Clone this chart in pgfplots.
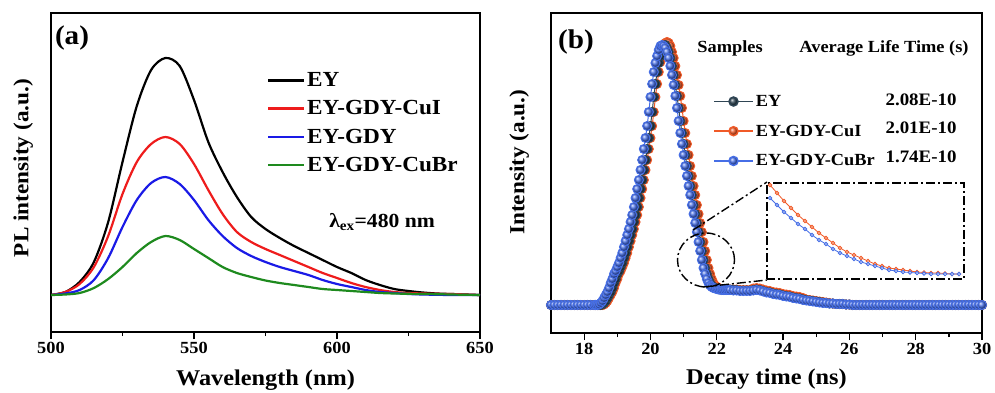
\documentclass[border=0pt]{standalone}
\usepackage{fontspec}
\setmainfont{Liberation Serif}[FakeStretch=1.08]
\usepackage{pgfplots}
\pgfplotsset{compat=1.18}
\usepackage{pgfplotstable}
\definecolor{cEY}{HTML}{2F4554}
\definecolor{cCuI}{HTML}{F05A28}
\definecolor{cCuBr}{HTML}{466EE6}
\definecolor{pRed}{HTML}{EE1C1C}
\definecolor{pBlue}{HTML}{1A1AE6}
\definecolor{pGreen}{HTML}{1E8A1E}
\pgfdeclareplotmark{ballEY}{\shade[ball color=cEY] (0pt,0pt) circle (\pgfplotmarksize);}
\pgfdeclareplotmark{ballCuI}{\shade[ball color=cCuI] (0pt,0pt) circle (\pgfplotmarksize);}
\pgfdeclareplotmark{ballCuBr}{\shade[ball color=cCuBr] (0pt,0pt) circle (\pgfplotmarksize);}
\newcommand\fs[1]{\fontsize{#1}{#1}\selectfont\bfseries}
\tikzset{dashdot/.style={line width=1.4pt, dash pattern=on 9pt off 3pt on 2pt off 3pt}}

\pgfplotstableread{
w k r bl g
500 37 37 37 37
505 40 40 38.5 37.5
510 50 48 42 39
515 70 65 52 44
520 110 96 74 53
525 170 138 105 65
530 226 170 132 79
535 262 188 149 90
540 274 195 155 96
545 266 188 148 92
550 232 168 132 83
555 190 142 112 74
560 160 118 96 65
565 135 100 84 59
570 115 90 76 55
575 103 83 70 51.5
580 94 77 65 49
585 86 71 61 47
590 79 65 57 45
595 72 59 52 43
600 65 54 48 42
605 59 49 45 41
610 52 45 42 40
615 47 42 40 39
620 43 40 39 38.5
625 41 39 38 38.2
630 39.5 38.5 37.5 38
635 38.5 38.2 37.2 37.8
640 38 38 37 37.5
645 37.5 37.5 37 37.2
650 37 37 37 37
}\pl

\pgfplotstableread{
t b r e
17.0 28 28 28
17.1 28 28 28
17.2 28 28 28
17.3 28 28 28
17.4 28 28 28
17.5 28 28 28
17.6 28 28 28
17.7 28 28 28
17.8 28 28 28
17.9 28 28 28
18.0 28 28 28
18.1 28 28 28
18.2 28 28 28
18.3 28 28 28
18.35 28 28 28
18.40 28 28 28
18.45 28.5 28 28
18.50 30 28 28
18.55 32 28 28.5
18.60 35 28.5 30
18.65 38 30 32
18.70 41 32 35
18.75 45 35 38
18.80 50 38 41
18.85 54 41 45
18.90 59 45 50
18.95 62 50 54
19.00 66 54 59
19.05 70 59 62
19.10 75 62 66
19.15 80 66 70
19.20 86 70 75
19.25 92 75 80
19.30 98 80 86
19.35 104 86 92
19.40 111 92 98
19.45 118 98 104
19.50 126 104 111
19.55 135 111 118
19.60 144 118 126
19.65 153 126 135
19.70 163 135 144
19.75 173 144 153
19.80 184 153 163
19.85 195 163 173
19.90 207 173 184
19.95 221 184 195
20.00 236 195 207
20.05 249 207 221
20.10 261 221 236
20.15 270 236 249
20.20 277 249 261
20.25 283 261 270
20.30 287 271 277
20.35 288 279 283
20.40 287 285 287
20.45 285 290 288
20.50 281 291 285
20.55 275 290 281
20.60 267 287 275
20.65 258 281 267
20.70 248 275 258
20.75 237 267 248
20.80 225 258 237
20.85 212 248 225
20.90 200 237 212
20.95 189 225 200
21.00 178 212 189
21.05 167 200 178
21.10 157 189 167
21.15 147 178 157
21.20 138 167 147
21.25 128 157 138
21.30 119 147 128
21.35 110 138 119
21.40 101 128 110
21.45 91 119 101
21.50 82 110 91
21.55 73 101 82
21.60 65 91 73
21.65 59 82 65
21.70 54 73 59
21.75 50 65 54
21.80 47.5 59 50
21.85 46 54 47.5
21.90 45 50 46
21.95 44.5 47.5 45
22.00 44 46 44.5
22.05 43.5 45 44
22.10 43.5 44.5 43.5
22.15 43 44 43.5
22.20 43 43.5 43.5
22.25 43 43.5 43.5
22.30 43 43.5 43.5
22.35 43 43.5 43.5
22.40 43 43.5 43.5
22.5 42.5 43.5 43
22.6 42.5 43.5 43
22.7 42 43 42.5
22.8 42 43 42.5
22.9 42 43 42.5
23.0 42 43 42.5
23.1 42.5 44.5 43
23.2 43 45 43.5
23.3 42.5 44.5 43
23.4 41.5 43.5 42
23.5 40.5 42.5 41
23.6 40 42 40.5
23.7 39 41 39.5
23.8 38.5 40.5 39
23.9 38 40 38.5
24.0 37 39 37.5
24.1 36.5 38.5 37
24.2 36 38 36.5
24.3 35 37 35.5
24.4 34.5 36.5 35
24.5 34 36 34.5
24.6 33 35 33.5
24.7 32.5 33.5 33
24.8 32 33 32.5
24.9 31.5 32.5 32
25.0 31 32 31.5
25.1 30.5 31.5 31
25.2 30 31 30.5
25.3 30 30.5 30
25.4 29.5 30 29.5
25.5 29.5 29.5 29.5
25.6 29 29 29
25.7 29 29 29
25.8 29 29 29
25.9 28.5 28.5 28.5
26.0 28.5 28.5 28.5
26.1 28 28 28
26.2 28 28 28
26.3 28 28 28
26.4 28 28 28
26.5 28 28 28
26.6 28 28 28
26.7 28 28 28
26.8 28 28 28
26.9 28 28 28
27.0 28 28 28
27.1 28 28 28
27.2 28 28 28
27.3 28 28 28
27.4 28 28 28
27.5 28 28 28
27.6 28 28 28
27.7 28 28 28
27.8 28 28 28
27.9 28 28 28
28.0 28 28 28
28.1 28 28 28
28.2 28 28 28
28.3 28 28 28
28.4 28 28 28
28.5 28 28 28
28.6 28 28 28
28.7 28 28 28
28.8 28 28 28
28.9 28 28 28
29.0 28 28 28
29.1 28 28 28
29.2 28 28 28
29.3 28 28 28
29.4 28 28 28
29.5 28 28 28
29.6 28 28 28
29.7 28 28 28
29.8 28 28 28
29.9 28 28 28
30.0 28 28 28
}\decay

\pgfplotstableread{
x r b
770 94 81
777 86 74
784 78 67
791 71 61
798 64 55
805 58 50
812 52 44
819 46 39
826 41 35
833 36 30
840 31 26
847 27 23
854 24 20
861 21 17
868 18 15
875 15 13
882 13 11
889 11 9
896 10 8
903 9 7
910 8 6.5
917 7 6
924 6.5 5.5
931 6 5
938 6 5
945 5.5 5
952 5 5
959 5 5
}\inset

\begin{document}
\begin{tikzpicture}
\useasboundingbox (0pt,0pt) rectangle (995pt,392pt);
\pgfplotsset{
  panel/.style={
    scale only axis, anchor=south west,
    axis line style={line width=1.6pt},
    tick style={line width=1.3pt, color=black},
    major tick length=7pt, minor tick length=4pt,
    tick align=outside, tick pos=left, ytick=\empty,
    xticklabel={\pgfmathprintnumber[assume math mode=true]{\tick}},
    xticklabel style={font=\fs{17}},
    xlabel style={font=\fs{22.5}},
    ylabel style={font=\fs{21.5}},
    clip=true,
  }
}
% ---------------- (a)
\begin{axis}[panel,
  at={(51pt,60pt)}, width=429pt, height=319pt,
  xmin=500, xmax=650, ymin=0, ymax=319,
  xtick={500,550,600,650}, minor xtick={525,575,625},
  xlabel={Wavelength (nm)}, ylabel={PL intensity (a.u.)},
  xlabel style={at={(axis description cs:0.5,0)}, anchor=base, yshift=-53pt},
  ylabel style={at={(axis description cs:-0.065,0.514)}, anchor=center},
  legend style={at={(rel axis cs:0.503,0.82)}, anchor=north west, draw=none, fill=none,
     font=\fs{21.5}, row sep=8.5pt, inner sep=0pt},
  legend cell align=left,
  legend image code/.code={\draw[#1] (0pt,0pt) -- (36pt,0pt);},
]
\addplot[black, line width=2.2pt, smooth] table[x=w,y=k]{\pl};
\addlegendentry{EY}
\addplot[pRed, line width=2.2pt, smooth] table[x=w,y=r]{\pl};
\addlegendentry{EY-GDY-CuI}
\addplot[pBlue, line width=2.2pt, smooth] table[x=w,y=bl]{\pl};
\addlegendentry{EY-GDY}
\addplot[pGreen, line width=2.2pt, smooth] table[x=w,y=g]{\pl};
\addlegendentry{EY-GDY-CuBr}
\end{axis}
\node[font=\fs{27}] at (72pt,354pt) {(a)};
\node[font=\fs{20}] at (382pt,170pt) {λ\textsubscript{ex}=480 nm};
% ---------------- (b)
\begin{axis}[panel,
  at={(551pt,59pt)}, width=431pt, height=320pt,
  xmin=17, xmax=30, ymin=0, ymax=320,
  xtick={18,20,...,30}, minor xtick={19,21,...,29},
  xlabel={Decay time (ns)}, ylabel={Intensity (a.u.)},
  xlabel style={at={(axis description cs:0.5,0)}, anchor=base, yshift=-51pt},
  ylabel style={at={(axis description cs:-0.074,0.534)}, anchor=center},
  legend style={at={(rel axis cs:0.376,0.75)}, anchor=north west, draw=none, fill=none,
     font=\fs{17}, row sep=13pt, inner sep=0pt},
  legend cell align=left,
  legend image code/.code={\draw[#1, mark repeat=2, mark phase=2] plot coordinates {(0pt,0pt) (19.5pt,0pt) (39pt,0pt)};},
]
\addplot[cCuI, line width=1pt, mark=ballCuI, mark size=4.5pt, forget plot] table[x=t,y=r]{\decay};
\addplot[cEY, line width=1pt, mark=ballEY, mark size=4.5pt, forget plot] table[x=t,y=e]{\decay};
\addplot[cCuBr, line width=1pt, mark=ballCuBr, mark size=4.5pt, forget plot] table[x=t,y=b]{\decay};
\addlegendimage{cEY, line width=1.5pt, mark=ballEY, mark size=4.5pt}
\addlegendentry{EY}
\addlegendimage{cCuI, line width=1.5pt, mark=ballCuI, mark size=4.5pt}
\addlegendentry{EY-GDY-CuI}
\addlegendimage{cCuBr, line width=1.5pt, mark=ballCuBr, mark size=4.5pt}
\addlegendentry{EY-GDY-CuBr}
\end{axis}
\node[font=\fs{27}] at (576pt,350pt) {(b)};
\node[font=\fs{17}] at (730pt,344pt) {Samples};
\node[font=\fs{17}] at (884pt,344pt) {Average Life Time (s)};
\node[font=\fs{17.5}, anchor=east] at (960pt,292pt) {2.08E-10};
\node[font=\fs{17.5}, anchor=east] at (960pt,264pt) {2.01E-10};
\node[font=\fs{17.5}, anchor=east] at (960pt,235pt) {1.74E-10};
\draw[dashdot] (706pt,132pt) ellipse [x radius=28.5pt, y radius=27pt];
\draw[dashdot] (693pt,162pt) -- (767pt,210pt);
\draw[dashdot] (703pt,105pt) -- (767pt,112pt);
% inset
\begin{axis}[
  at={(767pt,113pt)}, anchor=south west, scale only axis,
  width=197pt, height=96pt,
  xmin=767, xmax=964, ymin=0, ymax=96,
  xtick=\empty, ytick=\empty,
  axis line style={dashdot},
]
\addplot[cCuI, line width=0.8pt, mark=*, mark size=1.8pt, mark options={fill=cCuI!30!white, draw=cCuI}] table[x=x,y=r]{\inset};
\addplot[cCuBr, line width=0.8pt, mark=*, mark size=1.8pt, mark options={fill=cCuBr!30!white, draw=cCuBr}] table[x=x,y=b]{\inset};
\end{axis}
\end{tikzpicture}
\end{document}
